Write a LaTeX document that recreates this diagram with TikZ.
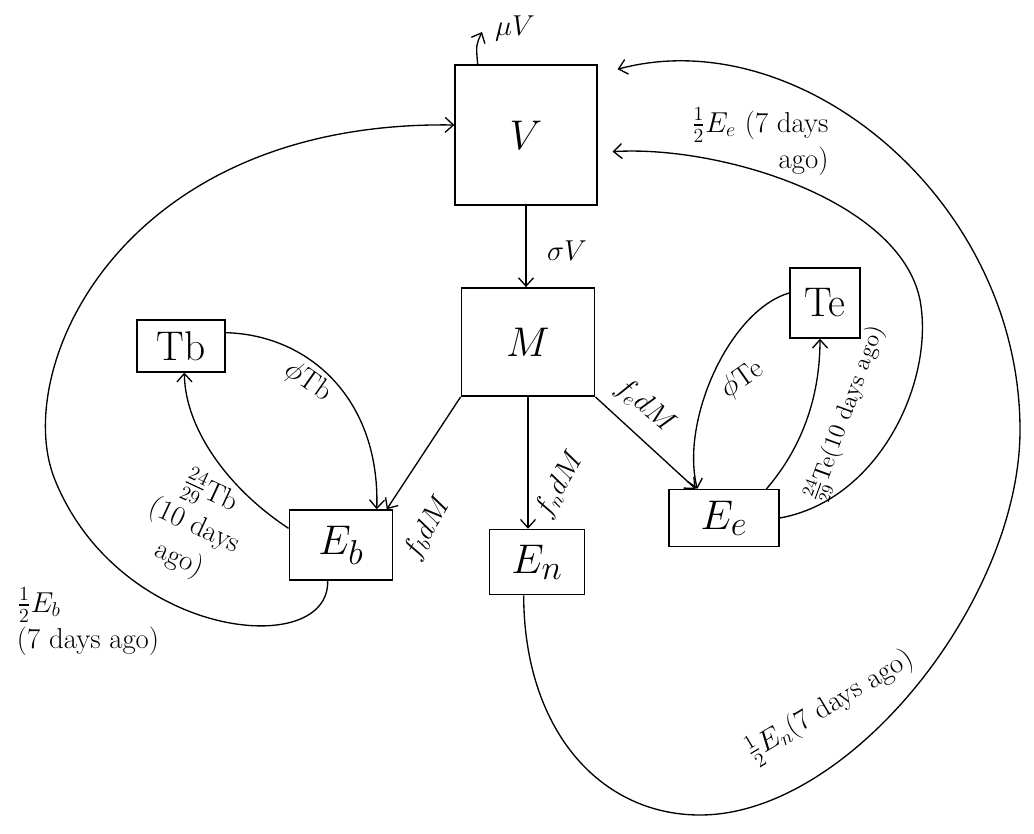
\documentclass[tikz,border=0pt]{standalone}
\usepackage{amsmath}
\usetikzlibrary{arrows.meta}
\tikzset{
  cbox/.style={draw, line width=0.9pt, font=\Huge, inner sep=0pt},
  ar/.style={-{Straight Barb[length=5pt,width=9pt]}, line width=0.8pt},
  lbl/.style={font=\LARGE, inner sep=1pt, align=center},
}
\begin{document}
\begin{tikzpicture}[x=0.6pt, y=-0.6pt]
\useasboundingbox (0,0) rectangle (1034,833);

% compartments
\node[cbox, minimum width=85pt, minimum height=84pt] (V) at (526,135) {$V$};
\node[cbox, minimum width=80pt, minimum height=65pt] (M) at (528,342) {$M$};
\node[cbox, minimum width=53pt, minimum height=31pt] (Tb) at (181,346) {Tb};
\node[cbox, minimum width=42pt, minimum height=42pt] (Te) at (825,303) {Te};
\node[cbox, minimum width=62pt, minimum height=42pt] (Eb) at (341,545) {$E_b$};
\node[cbox, minimum width=57pt, minimum height=39pt] (En) at (537,562) {$E_n$};
\node[cbox, minimum width=66pt, minimum height=34pt] (Ee) at (724,518) {$E_e$};
\coordinate (muout) at (482,32);

% flows out of V and M
\draw[ar] ([xshift=-29pt]V.north) .. controls (476,45) .. (muout);
\draw[ar] (V.south) -- (V.south |- M.north);
\draw[ar] (M.south west) -- ([xshift=-4pt]Eb.north east);
\draw[ar] (M.south) -- (M.south |- En.north);
\draw[ar] (M.south east) -- ([xshift=-17pt]Ee.north);

% recovery loops
\draw[ar] ([yshift=8pt]Tb.east) .. controls (310,335) and (380,400) .. ([xshift=-10pt]Eb.north east);
\draw[ar] ([yshift=10pt]Eb.west) .. controls (230,490) and (185,430) .. ([xshift=2pt]Tb.south);
\draw[ar] ([yshift=6pt]Te.west) .. controls (730,310) and (680,420) .. ([xshift=-16pt]Ee.north);
\draw[ar] ([xshift=-8pt]Ee.north east) .. controls (800,450) and (820,400) .. ([xshift=-3pt]Te.south);

% back to V
\draw[ar] ([xshift=-8pt]Eb.south) .. controls (330,660) and (120,640) .. (55,480)
  .. controls (10,370) and (120,120) .. ([yshift=6pt]V.west);
\draw[ar] (Ee.east) .. controls (880,500) and (935,380) .. (920,300)
  .. controls (900,200) and (720,145) .. ([xshift=9pt,yshift=-10pt]V.east);
\draw[ar] ([xshift=-8pt]En.south) .. controls (524,730) and (600,815) .. (700,815)
  .. controls (850,815) and (1020,600) .. (1020,430)
  .. controls (1020,200) and (800,20) .. ([xshift=12pt,yshift=-3pt]V.north east);

% labels
\node[lbl] (lmu) at (515,28) {$\mu V$};
\node[lbl] (lsig) at (567,251) {$\sigma V$};
\node[lbl, rotate=60] (lfb) at (428,528) {$f_b dM$};
\node[lbl, rotate=60] (lfn) at (560,485) {$f_n dM$};
\node[lbl, rotate=-40] (lfe) at (645,406) {$f_e dM$};
\node[lbl, rotate=-35] (lphb) at (308,382) {$\phi$Tb};
\node[lbl, rotate=35] (lphe) at (742,380) {$\phi$Te};
\node[lbl, rotate=-25] (lrtb) at (195,525) {$\frac{24}{29}$Tb\\(10 days\\ago)};
\node[lbl, font=\Large, rotate=70] (lrte) at (846,414) {$\frac{24}{29}$Te(10 days ago)};
\node[lbl, align=left, anchor=west] (lreb) at (15,622) {$\frac{1}{2}E_b$\\(7 days ago)};
\node[lbl, align=right] (lree) at (760,142) {$\frac{1}{2}E_e$ (7 days\\ago)};
\node[lbl, rotate=31] (lren) at (830,706) {$\frac{1}{2}E_n$(7 days ago)};
\end{tikzpicture}
\end{document}
